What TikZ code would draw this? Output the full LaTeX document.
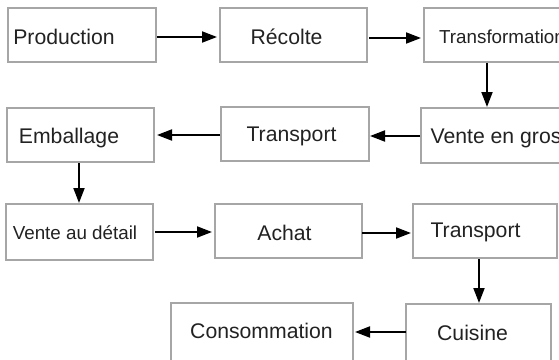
\documentclass[tikz,border=0pt]{standalone}
\usepackage{fontspec}
\setmainfont{Liberation Sans}
\usetikzlibrary{arrows.meta,calc}
\definecolor{boxgray}{HTML}{A6A6A6}
\definecolor{txtgray}{HTML}{222222}
\begin{document}
\begin{tikzpicture}[x=1pt,y=-1pt,
  box/.style={draw=boxgray, line width=1.3pt, fill=white, inner sep=0pt, outer sep=0pt, anchor=north west},
  lbl/.style={anchor=base, inner sep=0pt, text=txtgray, font=\fontsize{21.2}{25}\selectfont},
  lblsmall/.style={lbl, font=\fontsize{18.8}{22}\selectfont},
  arr/.style={line width=1.9pt, -{Triangle[length=15pt,width=11pt]}}]
\useasboundingbox (0,0) rectangle (559,359);
\clip (0,0) rectangle (559,359);
\fill[white] (0,0) rectangle (559,359);
% boxes
\node[box, minimum width=148pt, minimum height=54pt] (b1) at (8,8) {};
\node[box, minimum width=147pt, minimum height=54pt] (b2) at (220,8) {};
\node[box, minimum width=150pt, minimum height=54pt] (b3) at (424,8) {};
\node[box, minimum width=147pt, minimum height=54pt] (b4) at (7,108) {};
\node[box, minimum width=148pt, minimum height=54pt] (b5) at (221,107) {};
\node[box, minimum width=150pt, minimum height=55pt] (b6) at (421,108) {};
\node[box, minimum width=147pt, minimum height=56pt] (b7) at (6,204) {};
\node[box, minimum width=147pt, minimum height=54pt] (b8) at (215,204) {};
\node[box, minimum width=144pt, minimum height=54pt] (b9) at (413,204) {};
\node[box, minimum width=182pt, minimum height=62pt] (b10) at (171,303) {};
\node[box, minimum width=145pt, minimum height=62pt] (b11) at (406,304) {};
% labels
\node[lbl] (t1) at (64,44.8) {Production};
\node[lbl] (t2) at (286.5,44.8) {Récolte};
\node[lblsmall] (t3) at (502,43.8) {Transformation};
\node[lbl] (t4) at (69,143.8) {Emballage};
\node[lbl] (t5) at (291.5,141.8) {Transport};
\node[lbl] (t6) at (496,143.8) {Vente en gros};
\node[lblsmall] (t7) at (75,239.8) {Vente au détail};
\node[lbl] (t8) at (284.5,240.8) {Achat};
\node[lbl] (t9) at (475.5,237.8) {Transport};
\node[lbl] (t10) at (261.5,338.8) {Consommation};
\node[lbl] (t11) at (472.5,340.8) {Cuisine};
% connectors
\draw[arr] ($(b1.north east)+(1,29)$) -- ($(b2.north west)+(-3,29)$);
\draw[arr] ($(b2.north east)+(2,30)$) -- ($(b3.north west)+(-3,30)$);
\draw[arr] ($(b3.south west)+(63,1)$) -- ($(b6.north west)+(66,-1)$);
\draw[arr] ($(b6.north west)+(-1,28)$) -- ($(b5.north east)+(1,29)$);
\draw[arr] ($(b5.north west)+(-1,28)$) -- ($(b4.north east)+(3,27)$);
\draw[arr] ($(b4.south west)+(72,1)$) -- ($(b7.north west)+(73,-1)$);
\draw[arr] ($(b7.north east)+(2,28)$) -- ($(b8.north west)+(-3,28)$);
\draw[arr] ($(b8.north east)+(0,29)$) -- ($(b9.north west)+(-2,29)$);
\draw[arr] ($(b9.south west)+(66,1)$) -- ($(b11.north west)+(73,-1)$);
\draw[arr] ($(b11.north west)+(0,28)$) -- ($(b10.north east)+(2,29)$);
\end{tikzpicture}
\end{document}
